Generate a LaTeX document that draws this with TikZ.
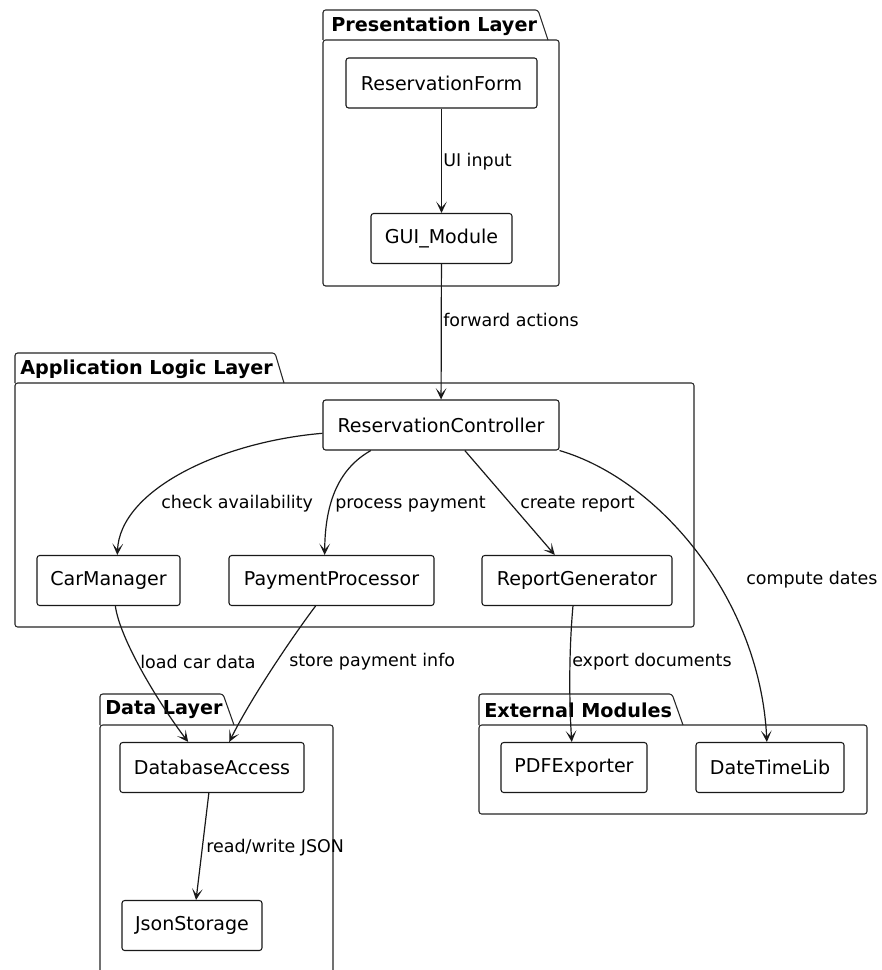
\documentclass[tikz,border=0pt]{standalone}
\usepackage{fontspec}
\setmainfont{DejaVu Sans}
\usetikzlibrary{arrows.meta}

\begin{document}
\begin{tikzpicture}[
    x=0.75pt, y=-0.75pt,
    every node/.style={font=\fontsize{14.3pt}{17pt}\selectfont},
    comp/.style={rectangle, draw=black!90, fill=white, rounded corners=2pt, line width=0.8pt, minimum height=37.5pt, minimum width=#1, inner sep=0pt},
    pkg/.style={draw=black!85, line width=0.8pt, rounded corners=2pt},
    pkgtitle/.style={anchor=west, inner sep=0pt, font=\fontsize{14.4pt}{17pt}\selectfont\bfseries},
    lbl/.style={anchor=west, inner sep=0pt, font=\fontsize{13.1pt}{16pt}\selectfont},
    flow/.style={draw=black!90, line width=0.9pt, -{Stealth[length=8.5pt, width=8pt, inset=4.5pt]}}
]
\clip (0,0) rectangle (881,970);
\fill[white] (0,0) rectangle (881,970);

% package frames
\draw[pkg] (323,40) -- (323,10) -- (538,10) -- (548,40);
\draw[pkg] (323,40) rectangle (559,286);
\draw[pkg] (15,383) -- (15,353) -- (275,353) -- (284,383);
\draw[pkg] (15,383) rectangle (694,627);
\draw[pkg] (100,725) -- (100,694) -- (223,694) -- (234,725);
\draw[pkg] (100,725) rectangle (333,990);
\draw[pkg] (479,725) -- (479,694) -- (672,694) -- (683,725);
\draw[pkg] (479,725) rectangle (867,814);

\node[pkgtitle] (pres) at (331,26) {Presentation Layer};
\node[pkgtitle] (logic) at (20,369) {Application Logic Layer};
\node[pkgtitle] (data) at (105,710) {Data Layer};
\node[pkgtitle] (ext) at (484,710) {External Modules};

% components
\node[comp=143.25pt] (form) at (441.5,83) {ReservationForm};
\node[comp=105.75pt] (gui) at (441.5,238.5) {GUI\_Module};
\node[comp=177pt] (ctrl) at (441,425) {ReservationController};
\node[comp=107.25pt] (car) at (108.5,580.5) {CarManager};
\node[comp=153.75pt] (pay) at (331.5,580.5) {PaymentProcessor};
\node[comp=142.5pt] (rep) at (577,580.5) {ReportGenerator};
\node[comp=138pt] (dba) at (212,767.5) {DatabaseAccess};
\node[comp=105pt] (json) at (192,925.5) {JsonStorage};
\node[comp=109.5pt] (pdf) at (574,767.5) {PDFExporter};
\node[comp=111pt] (dtl) at (770,767.5) {DateTimeLib};

% connectors
\draw[flow] (form) -- (gui);
\draw[flow] (gui) -- (ctrl);
\draw[flow] (ctrl.184) .. controls (220,442) and (120,490) .. (car.71);
\draw[flow] (ctrl.200) .. controls (340,468) and (325,500) .. (pay.105);
\draw[flow] (ctrl.-47) -- (rep.131);
\draw[flow] (ctrl.south east) .. controls (660,480) and (760,600) .. (dtl.97);
\draw[flow] (car.-75) .. controls (120,640) and (160,705) .. (dba.133);
\draw[flow] (pay.-122) .. controls (290,640) and (250,700) .. (dba.56);
\draw[flow] (rep.-99) .. controls (569,650) and (569,700) .. (pdf.95);
\draw[flow] (dba.-97) -- (json.81);

% labels
\node[lbl] (l-ui) at (443,162) {UI input};
\node[lbl] (l-fwd) at (443,320) {forward actions};
\node[lbl] (l-check) at (161,504) {check availability};
\node[lbl] (l-pay) at (335,504) {process payment};
\node[lbl] (l-rep) at (520,504) {create report};
\node[lbl] (l-date) at (746,580) {compute dates};
\node[lbl] (l-car) at (140,662) {load car data};
\node[lbl] (l-store) at (289,662) {store payment info};
\node[lbl] (l-exp) at (572,662) {export documents};
\node[lbl] (l-json) at (206,848) {read/write JSON};
\end{tikzpicture}
\end{document}
